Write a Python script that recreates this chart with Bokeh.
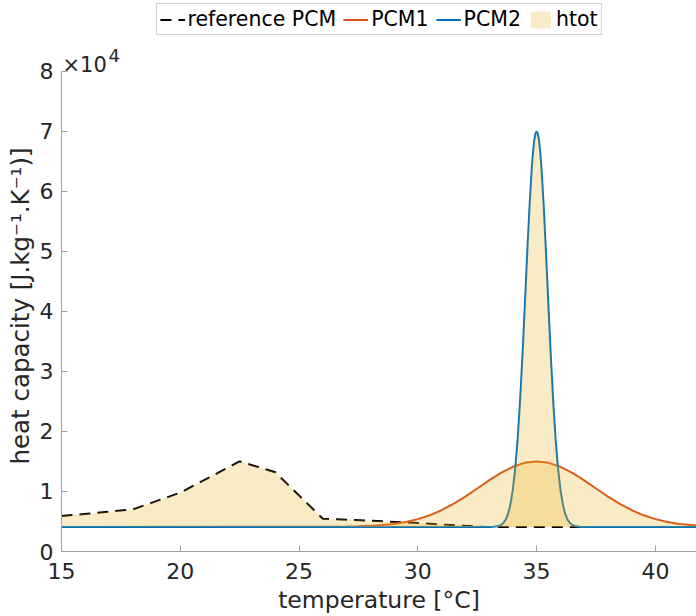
from bokeh.plotting import figure
from bokeh.models import Range1d, FixedTicker, Legend, LegendItem, Label, Title
from bokeh.embed import file_html
from bokeh.resources import INLINE

# ---------------- data ----------------
baseline = 4100

ref_x = [15, 18, 20, 22.5, 24, 26, 28, 30, 32, 32.8, 42]
ref_y = [5900, 7000, 9800, 15000, 13200, 5450, 5150, 4730, 4270, 4100, 4100]

pcm1_x = [15, 26, 26.5, 27, 27.5, 28, 28.5, 29, 29.5, 30, 30.5, 31, 31.5, 32, 32.5,
          33, 33.5, 34, 34.5, 35, 35.5, 36, 36.5, 37, 37.5, 38, 38.5, 39, 39.5,
          40, 40.5, 41, 41.5, 42]
pcm1_y = [4100, 4110, 4120, 4150, 4190, 4270, 4400, 4600, 4920, 5390, 6030, 6880,
          7930, 9150, 10490, 11850, 13100, 14110, 14770, 15000, 14770, 14110, 13100,
          11850, 10490, 9150, 7930, 6880, 6030, 5390, 4920, 4600, 4400, 4270]

pcm2_x = [15, 33.0, 33.2, 33.4, 33.5, 33.6, 33.7, 33.8, 33.9, 34.0, 34.1, 34.2, 34.3,
          34.4, 34.5, 34.6, 34.7, 34.8, 34.85, 34.9, 34.95, 35.0, 35.05, 35.1, 35.15,
          35.2, 35.3, 35.4, 35.5, 35.6, 35.7, 35.8, 35.9, 36.0, 36.1, 36.2, 36.3, 36.4,
          36.5, 36.6, 36.8, 37.0, 42]
pcm2_y = [4100, 4100, 4130, 4260, 4420, 4740, 5320, 6290, 7880, 10300, 13820, 18620,
          24810, 32250, 40600, 49260, 57370, 64060, 66590, 68460, 69610, 70000, 69610,
          68460, 66590, 64060, 57370, 49260, 40600, 32250, 24810, 18620, 13820, 10300,
          7880, 6290, 5320, 4740, 4420, 4260, 4130, 4100, 4100]

x_ticks = [15, 20, 25, 30, 35, 40]
y_ticks = [0, 10000, 20000, 30000, 40000, 50000, 60000, 70000, 80000]
y_tick_labels = ["0", "1", "2", "3", "4", "5", "6", "7", "8"]
y_axis_max = 80000

FONT = "DejaVu Sans"
TXT = "#262626"
AXC = "#a0a0a0"
FILL = "#EDB120"

# frame reaches the canvas top (room for legend and exponent); y axis line stops at 8e4
p = figure(width=696, height=616,
           x_range=Range1d(15, 41.73), y_range=Range1d(0, 91809),
           output_backend="svg", toolbar_location=None,
           min_border_left=61, min_border_right=0, min_border_top=0,
           min_border_bottom=64)
p.outline_line_color = None
p.grid.visible = False
p.background_fill_color = "white"
p.border_fill_color = "white"

# lines (drawn first, fills go on top as in the reference)
r_ref = p.line(ref_x, ref_y, line_color="black", line_width=2, line_dash="11 7")
r_p1 = p.line(pcm1_x, pcm1_y, line_color="#D95319", line_width=2)
r_p2 = p.line(pcm2_x, pcm2_y, line_color="#0072BD", line_width=2)

f1 = p.varea(x=ref_x, y1=[baseline] * len(ref_x), y2=ref_y,
             fill_color=FILL, fill_alpha=0.25)
f2 = p.varea(x=pcm1_x, y1=[baseline] * len(pcm1_x), y2=pcm1_y,
             fill_color=FILL, fill_alpha=0.25)
f3 = p.varea(x=pcm2_x, y1=[baseline] * len(pcm2_x), y2=pcm2_y,
             fill_color=FILL, fill_alpha=0.25)

# axes
for ax in (p.xaxis[0], p.yaxis[0]):
    ax.axis_line_color = AXC
    ax.axis_line_width = 1
    ax.major_tick_line_color = AXC
    ax.major_tick_in = 6
    ax.major_tick_out = 0
    ax.minor_tick_line_color = None
    ax.major_label_text_font = FONT
    ax.major_label_text_font_size = "22px"
    ax.major_label_text_color = TXT
    ax.axis_label_text_font = FONT
    ax.axis_label_text_font_size = "23.5px"
    ax.axis_label_text_font_style = "normal"
    ax.axis_label_text_color = TXT

p.yaxis[0].bounds = (0, y_axis_max)
p.xaxis[0].ticker = FixedTicker(ticks=x_ticks)
p.yaxis[0].ticker = FixedTicker(ticks=y_ticks)
p.yaxis[0].major_label_overrides = {t: l for t, l in zip(y_ticks, y_tick_labels)}
p.xaxis[0].axis_label = "temperature [°C]"
p.xaxis[0].major_label_standoff = 11
p.xaxis[0].axis_label_standoff = 4
p.yaxis[0].major_label_standoff = 8

# y label as a left-side title so it can sit over the 0..8e4 span
p.add_layout(Title(text="heat capacity [J.kg\u207b\u00b9.K\u207b\u00b9)]",
                   align="left", offset=87, standoff=3,
                   text_font=FONT, text_font_size="24.5px",
                   text_font_style="normal", text_color=TXT), "left")

# exponent label
p.add_layout(Label(x=15, y=y_axis_max, x_offset=1, y_offset=6, text="\u00d710",
                   text_font=FONT, text_font_size="21px", text_color=TXT,
                   text_baseline="alphabetic"))
p.add_layout(Label(x=15, y=y_axis_max, x_offset=47, y_offset=16, text="4",
                   text_font=FONT, text_font_size="18px", text_color=TXT,
                   text_baseline="alphabetic"))

legend = Legend(items=[LegendItem(label="reference PCM", renderers=[r_ref]),
                       LegendItem(label="PCM1", renderers=[r_p1]),
                       LegendItem(label="PCM2", renderers=[r_p2]),
                       LegendItem(label="htot", renderers=[f1])],
                orientation="horizontal", location="top_center",
                label_text_font=FONT, label_text_font_size="20.5px",
                label_text_color="black",
                glyph_width=25, glyph_height=21, label_height=21,
                label_standoff=3, spacing=7, padding=3, margin=3,
                border_line_color="#a0a0a0", border_line_width=1,
                background_fill_color="white", background_fill_alpha=1)
p.add_layout(legend, "center")

open("out.html", "w").write(file_html(p, INLINE))
